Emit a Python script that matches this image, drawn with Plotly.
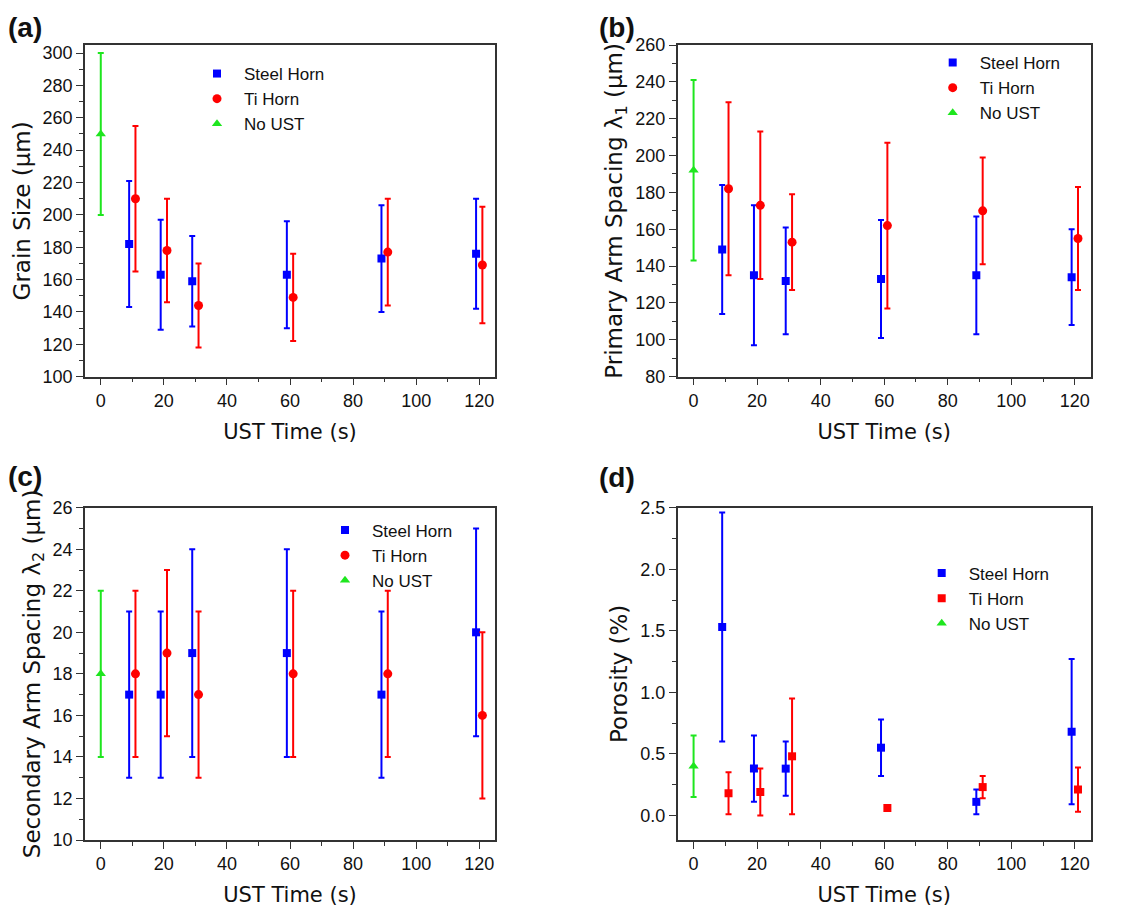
import plotly.graph_objects as go

FONT = "Liberation Sans, Arial, sans-serif"
TFONT = "DejaVu Sans, Liberation Sans, sans-serif"
BLUE = "#0000FF"
RED = "#FF0000"
GREEN = "#1EE61E"

# x positions (s)
x_nout = [0]
x_steel = [9, 19, 29, 59, 89, 119]
x_ti = [11, 21, 31, 61, 91, 121]

# (a) Grain size (um): mean, lower bound, upper bound
a_nout = [250]; a_nout_lo = [200]; a_nout_hi = [300]
a_steel = [182, 163, 159, 163, 173, 176]
a_steel_lo = [143, 129, 131, 130, 140, 142]
a_steel_hi = [221, 197, 187, 196, 206, 210]
a_ti = [210, 178, 144, 149, 177, 169]
a_ti_lo = [165, 146, 118, 122, 144, 133]
a_ti_hi = [255, 210, 170, 176, 210, 205]

# (b) Primary arm spacing (um)
b_nout = [192]; b_nout_lo = [143]; b_nout_hi = [241]
b_steel = [149, 135, 132, 133, 135, 134]
b_steel_lo = [114, 97, 103, 101, 103, 108]
b_steel_hi = [184, 173, 161, 165, 167, 160]
b_ti = [182, 173, 153, 162, 170, 155]
b_ti_lo = [135, 133, 127, 117, 141, 127]
b_ti_hi = [229, 213, 179, 207, 199, 183]

# (c) Secondary arm spacing (um)
c_nout = [18]; c_nout_lo = [14]; c_nout_hi = [22]
c_steel = [17, 17, 19, 19, 17, 20]
c_steel_lo = [13, 13, 14, 14, 13, 15]
c_steel_hi = [21, 21, 24, 24, 21, 25]
c_ti = [18, 19, 17, 18, 18, 16]
c_ti_lo = [14, 15, 13, 14, 14, 12]
c_ti_hi = [22, 23, 21, 22, 22, 20]

# (d) Porosity (%)
d_nout = [0.40]; d_nout_lo = [0.15]; d_nout_hi = [0.65]
d_steel = [1.53, 0.38, 0.38, 0.55, 0.11, 0.68]
d_steel_lo = [0.60, 0.11, 0.16, 0.32, 0.01, 0.09]
d_steel_hi = [2.46, 0.65, 0.60, 0.78, 0.21, 1.27]
d_ti = [0.18, 0.19, 0.48, 0.06, 0.23, 0.21]
d_ti_lo = [0.01, 0.00, 0.01, 0.04, 0.14, 0.03]
d_ti_hi = [0.35, 0.38, 0.95, 0.08, 0.32, 0.39]

series_names = ["Steel Horn", "Ti Horn", "No UST"]

fig = go.Figure()


def add_series(x, y, lo, hi, name, color, symbol, size, xa, ya, leg):
    fig.add_trace(go.Scatter(
        x=x, y=y, mode="markers", name=name,
        marker=dict(color=color, symbol=symbol, size=size),
        error_y=dict(type="data", symmetric=False,
                     array=[h - v for h, v in zip(hi, y)],
                     arrayminus=[v - l for v, l in zip(y, lo)],
                     color=color, thickness=2, width=3),
        xaxis=xa, yaxis=ya, legend=leg,
    ))


panels = [
    ("x", "y", "legend", a_steel, a_steel_lo, a_steel_hi, a_ti, a_ti_lo, a_ti_hi,
     a_nout, a_nout_lo, a_nout_hi, "circle"),
    ("x2", "y2", "legend2", b_steel, b_steel_lo, b_steel_hi, b_ti, b_ti_lo, b_ti_hi,
     b_nout, b_nout_lo, b_nout_hi, "circle"),
    ("x3", "y3", "legend3", c_steel, c_steel_lo, c_steel_hi, c_ti, c_ti_lo, c_ti_hi,
     c_nout, c_nout_lo, c_nout_hi, "circle"),
    ("x4", "y4", "legend4", d_steel, d_steel_lo, d_steel_hi, d_ti, d_ti_lo, d_ti_hi,
     d_nout, d_nout_lo, d_nout_hi, "square"),
]

for (xa, ya, leg, s, slo, shi, t, tlo, thi, n, nlo, nhi, tsym) in panels:
    add_series(x_steel, s, slo, shi, series_names[0], BLUE, "square", 8, xa, ya, leg)
    add_series(x_ti, t, tlo, thi, series_names[1], RED, tsym, 9 if tsym == "circle" else 8, xa, ya, leg)
    add_series(x_nout, n, nlo, nhi, series_names[2], GREEN, "triangle-up", 9, xa, ya, leg)

W, H = 1137, 910
col_x = [(85, 495), (677.7, 1090.7)]
row_y = [(45, 376.7), (507.7, 840)]


def xdom(c):
    return [col_x[c][0] / W, col_x[c][1] / W]


def ydom(r):
    return [1 - row_y[r][1] / H, 1 - row_y[r][0] / H]


axis_common = dict(
    showline=True, linecolor="#333333", linewidth=1.5, mirror=True,
    ticks="outside", ticklen=7, tickwidth=1.3, tickcolor="#333333",
    showgrid=False, zeroline=False,
    tickfont=dict(family=FONT, size=18, color="#111111"),
    automargin=False,
)

xtitle = dict(text="UST Time (s)", font=dict(family=TFONT, size=21, color="#111111"), standoff=14)

ytitles = ["Grain Size (μm)",
           "Primary Arm Spacing λ<sub>1</sub> (μm)",
           "Secondary Arm Spacing λ<sub>2</sub> (μm)",
           "Porosity (%)"]
yranges = [[100, 305], [80, 260], [10, 26], [-0.2, 2.5]]
ydticks = [20, 20, 2, 0.5]
yminor = [10, 10, 1, 0.25]
yfmt = ["", "", "", ".1f"]

layout = dict(
    width=W, height=H, margin=dict(l=0, r=0, t=0, b=0),
    paper_bgcolor="white", plot_bgcolor="white",
    font=dict(family=FONT, color="#111111"),
)

for i in range(4):
    r, c = divmod(i, 2)
    suffix = "" if i == 0 else str(i + 1)
    layout["xaxis" + suffix] = dict(
        axis_common, domain=xdom(c), range=[-5, 125], tick0=0, dtick=20,
        minor=dict(ticks="outside", ticklen=4, dtick=10, tickcolor="#333333"),
        anchor="y" + suffix, title=xtitle,
    )
    layout["yaxis" + suffix] = dict(
        axis_common, domain=ydom(r), range=yranges[i], tick0=0, dtick=ydticks[i],
        minor=dict(ticks="outside", ticklen=4, dtick=yminor[i], tickcolor="#333333"),
        tickformat=yfmt[i], anchor="x" + suffix,
        title=dict(text=ytitles[i], font=dict(family=TFONT, size=23, color="#111111"), standoff=6),
    )

legend_pos = [(190, 56), (925.7, 45), (318, 512.5), (914.7, 555.5)]
for i, (lx, ly) in enumerate(legend_pos):
    key = "legend" if i == 0 else "legend" + str(i + 1)
    layout[key] = dict(
        x=lx / W, y=1 - ly / H, xanchor="left", yanchor="top",
        bgcolor="rgba(0,0,0,0)", borderwidth=0,
        font=dict(family=FONT, size=17, color="#111111"),
        tracegroupgap=0, itemsizing="trace", itemwidth=44,
    )

fig.update_layout(**layout)

labels = [("(a)", 6, 27), ("(b)", 597, 27), ("(c)", 6, 476), ("(d)", 597, 477)]
for txt, lx, ly in labels:
    fig.add_annotation(text="<b>%s</b>" % txt, x=lx / W, y=1 - ly / H, xref="paper", yref="paper",
                       xanchor="left", yanchor="middle", showarrow=False,
                       font=dict(family=FONT, size=28, color="#111111"))

fig.write_html("out.html", config={"displayModeBar": False},
               post_script="document.body.style.margin='0';")
